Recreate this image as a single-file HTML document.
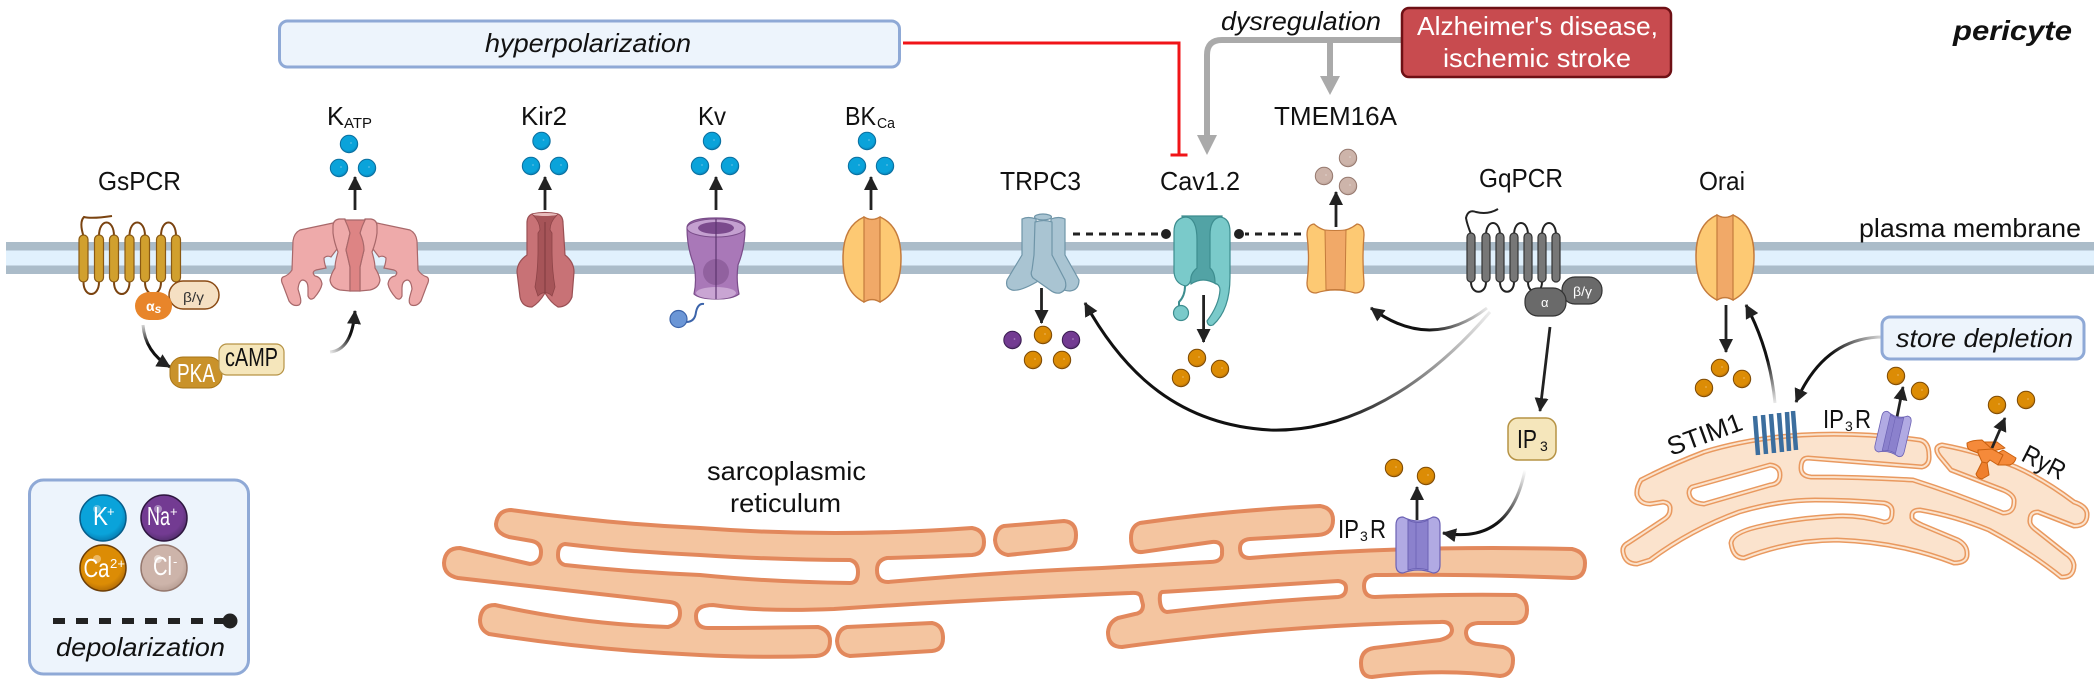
<!DOCTYPE html>
<html><head><meta charset="utf-8"><style>
html,body{margin:0;padding:0;background:#fff}
svg{display:block}
text{font-family:"Liberation Sans",sans-serif;font-size:26px;fill:#111}
.i{font-style:italic}
.w{fill:#fff}
</style></head><body>
<svg width="2100" height="685" viewBox="0 0 2100 685" xmlns="http://www.w3.org/2000/svg">
<defs>
<marker id="a" markerUnits="userSpaceOnUse" markerWidth="18" markerHeight="18" refX="13" refY="8" orient="auto"><path d="M0 1L14 8L0 15Z" fill="#222"/></marker>
<radialGradient id="gk" cx=".45" cy=".4" r=".65"><stop offset=".7" stop-color="#0aa3da"/><stop offset="1" stop-color="#0673a8"/></radialGradient>
<radialGradient id="gc" cx=".45" cy=".4" r=".65"><stop offset=".7" stop-color="#dc8c05"/><stop offset="1" stop-color="#a86508"/></radialGradient>
<radialGradient id="gn" cx=".45" cy=".4" r=".65"><stop offset=".7" stop-color="#733b92"/><stop offset="1" stop-color="#4c2c66"/></radialGradient>
<radialGradient id="gl" cx=".45" cy=".4" r=".65"><stop offset=".7" stop-color="#cdb4aa"/><stop offset="1" stop-color="#b39a90"/></radialGradient>
<g id="k"><circle r="8.7" fill="url(#gk)" stroke="#0b6f9f" stroke-width="1"/><circle cx="2" cy="-1" r=".9" fill="#7cc8e8" opacity=".7"/></g>
<g id="c"><circle r="8.7" fill="url(#gc)" stroke="#7d4a05" stroke-width="1"/><circle cx="2" cy="-1" r=".9" fill="#efbf70" opacity=".7"/></g>
<g id="n"><circle r="8.7" fill="url(#gn)" stroke="#3a1c50" stroke-width="1"/><circle cx="2" cy="-1" r=".9" fill="#b596c8" opacity=".7"/></g>
<g id="l"><circle r="8.7" fill="url(#gl)" stroke="#95786e" stroke-width="1"/><circle cx="2" cy="-1" r=".9" fill="#e6d8d2" opacity=".7"/></g>
<g id="bk">
<path d="M-8-43C-24-36-29-20-29-2C-29 18-24 34-8 42Q0 37 8 42C24 34 29 18 29-2C29-20 24-36 8-43Q0-38-8-43Z" fill="#fdc973" stroke="#c47b3c" stroke-width="1.500"/>
<path d="M-8-43Q0-38 8-43L8 42Q0 37-8 42Z" fill="#f1a968" stroke="#c47b3c" stroke-width="1.200"/>
</g>
<g id="ip3">
<path d="M-15-28Q-22-28-22-20L-22 20Q-22 28-15 28Q0 22 15 28Q22 28 22 20L22-20Q22-28 15-28Q0-20-15-28Z" fill="#b1aae3" stroke="#6c62b4" stroke-width="1.200"/>
<path d="M-10-25Q0-20 10-25L10 25Q0 22-10 25Z" fill="#8b81cd" stroke="#6c62b4" stroke-width="1"/>
<path d="M-2-22L-2 23" stroke="#6c62b4" stroke-width=".8"/>
</g>
<g id="kh" stroke="#a8686a" stroke-width="1.200" fill="#eeaaaa">
<path d="M333 223L300 230Q294 233 293 241L292 270Q289 275 283 277Q280 279 283 285L289 301Q293 307 299 305Q302 303 300 296L298 289Q299 280 303 280Q308 281 308 288L308 296Q310 301 314 298Q321 290 322 284Q321 277 315 276Q311 272 316 270L326 268Q324 262 324 258Q327 255 331 257L340 245L335 225Z"/>
<path d="M333 226Q333 220 339 219L345 219Q348 225 350 233Q348 242 346 250Q348 258 350 267L350 291L340 290Q331 288 330 280Q331 274 335 268Q335 262 338 252Q334 242 333 233Z"/>
</g>
<linearGradient id="f1" gradientUnits="userSpaceOnUse" x1="1525" y1="470" x2="1500" y2="525"><stop offset="0" stop-color="#222" stop-opacity="0"/><stop offset="1" stop-color="#111"/></linearGradient>
<linearGradient id="f2" gradientUnits="userSpaceOnUse" x1="1775" y1="403" x2="1765" y2="360"><stop offset="0" stop-color="#222" stop-opacity=".1"/><stop offset="1" stop-color="#111"/></linearGradient>
<linearGradient id="f3" gradientUnits="userSpaceOnUse" x1="1887" y1="337" x2="1830" y2="350"><stop offset="0" stop-color="#222" stop-opacity=".1"/><stop offset="1" stop-color="#111"/></linearGradient>
<linearGradient id="f4" gradientUnits="userSpaceOnUse" x1="1487" y1="308" x2="1430" y2="335"><stop offset="0" stop-color="#222" stop-opacity=".1"/><stop offset="1" stop-color="#111"/></linearGradient>
<linearGradient id="f5" gradientUnits="userSpaceOnUse" x1="1490" y1="312" x2="1300" y2="430"><stop offset="0" stop-color="#222" stop-opacity=".08"/><stop offset=".85" stop-color="#111"/></linearGradient>
<linearGradient id="f6" gradientUnits="userSpaceOnUse" x1="330" y1="352" x2="350" y2="335"><stop offset="0" stop-color="#222" stop-opacity=".1"/><stop offset="1" stop-color="#111"/></linearGradient>
<linearGradient id="f7" gradientUnits="userSpaceOnUse" x1="143" y1="325" x2="146" y2="345"><stop offset="0" stop-color="#222" stop-opacity=".2"/><stop offset="1" stop-color="#111"/></linearGradient>
</defs>

<!-- membrane -->
<rect x="6" y="242" width="2088" height="32" fill="#abbcc9"/>
<rect x="6" y="250.500" width="2088" height="15" fill="#e1f1fd"/>

<!-- top boxes -->
<rect x="279.500" y="21" width="620" height="46" rx="8" fill="#edf4fc" stroke="#8fa9d6" stroke-width="3"/>
<text class="i" x="485" y="52" textLength="206" lengthAdjust="spacingAndGlyphs">hyperpolarization</text>
<path d="M903 43L1179 43L1179 155M1170.500 155L1187.500 155" fill="none" stroke="#f01418" stroke-width="3"/>

<path d="M1402 40L1222 40Q1207 40 1207 55L1207 136M1330 40L1330 77" fill="none" stroke="#aaa" stroke-width="6"/>
<path d="M1197 135L1217 135L1207 155Z M1320 76L1340 76L1330 95Z" fill="#aaa"/>
<text class="i" x="1221" y="30" textLength="160" lengthAdjust="spacingAndGlyphs">dysregulation</text>
<rect x="1402" y="8" width="269" height="69" rx="7" fill="#c84b4f" stroke="#6e1015" stroke-width="2.500"/>
<text class="w" x="1417" y="35" textLength="241" lengthAdjust="spacingAndGlyphs">Alzheimer's disease,</text>
<text class="w" x="1443" y="67" textLength="188" lengthAdjust="spacingAndGlyphs">ischemic stroke</text>
<text x="1953" y="40" textLength="119" lengthAdjust="spacingAndGlyphs" style="font-size:28px;font-weight:700;font-style:italic">pericyte</text>
<text x="1859" y="237" textLength="222" lengthAdjust="spacingAndGlyphs">plasma membrane</text>

<!-- channel labels -->
<text x="98" y="190" textLength="83" lengthAdjust="spacingAndGlyphs">GsPCR</text>
<text x="327" y="125" textLength="17" lengthAdjust="spacingAndGlyphs">K</text>
<text x="344" y="128" textLength="28" lengthAdjust="spacingAndGlyphs" style="font-size:15px">ATP</text>
<text x="521" y="125" textLength="46" lengthAdjust="spacingAndGlyphs">Kir2</text>
<text x="698" y="125" textLength="28" lengthAdjust="spacingAndGlyphs">Kv</text>
<text x="845" y="125" textLength="31" lengthAdjust="spacingAndGlyphs">BK</text>
<text x="877" y="128" textLength="18" lengthAdjust="spacingAndGlyphs" style="font-size:15px">Ca</text>
<text x="1000" y="190" textLength="81" lengthAdjust="spacingAndGlyphs">TRPC3</text>
<text x="1160" y="190" textLength="80" lengthAdjust="spacingAndGlyphs">Cav1.2</text>
<text x="1274" y="125" textLength="123" lengthAdjust="spacingAndGlyphs">TMEM16A</text>
<text x="1479" y="187" textLength="84" lengthAdjust="spacingAndGlyphs">GqPCR</text>
<text x="1699" y="190" textLength="46" lengthAdjust="spacingAndGlyphs">Orai</text>

<!-- ions top -->
<use href="#k" x="349" y="144"/><use href="#k" x="339" y="168"/><use href="#k" x="367" y="168"/>
<use href="#k" x="541.500" y="141"/><use href="#k" x="531" y="166"/><use href="#k" x="559" y="166"/>
<use href="#k" x="712" y="141"/><use href="#k" x="700" y="166"/><use href="#k" x="730" y="166"/>
<use href="#k" x="867" y="141"/><use href="#k" x="857" y="166"/><use href="#k" x="885" y="166"/>
<use href="#n" x="1012.500" y="340"/><use href="#c" x="1043" y="335"/><use href="#n" x="1071" y="340"/><use href="#c" x="1033" y="360"/><use href="#c" x="1062" y="360"/>
<use href="#c" x="1197" y="358"/><use href="#c" x="1220" y="369"/><use href="#c" x="1181" y="378"/>
<use href="#l" x="1348" y="158"/><use href="#l" x="1324" y="176"/><use href="#l" x="1348" y="186"/>
<use href="#c" x="1720" y="368"/><use href="#c" x="1742" y="379"/><use href="#c" x="1704" y="388"/>
<use href="#c" x="1896" y="376"/><use href="#c" x="1920" y="391"/>
<use href="#c" x="2026" y="400"/><use href="#c" x="1997" y="405"/>
<use href="#c" x="1394" y="468"/><use href="#c" x="1426" y="476"/>

<!-- straight arrows -->
<g fill="none" stroke="#222" stroke-width="2.800">
<path d="M355 210L355 177" marker-end="url(#a)"/>
<path d="M545 210L545 177" marker-end="url(#a)"/>
<path d="M716 210L716 177" marker-end="url(#a)"/>
<path d="M871 210L871 177" marker-end="url(#a)"/>
<path d="M1041.500 288L1041.500 323" marker-end="url(#a)"/>
<path d="M1203.600 295L1203.600 342" marker-end="url(#a)"/>
<path d="M1336 227L1336 192" marker-end="url(#a)"/>
<path d="M1726 305L1726 352" marker-end="url(#a)"/>
<path d="M1550 327L1540 411" marker-end="url(#a)"/>
<path d="M1417 520L1417 487" marker-end="url(#a)"/>
<path d="M1897 417L1903 387" marker-end="url(#a)"/>
</g>
<!-- curved arrows -->
<g fill="none" stroke-width="3">
<path d="M143 325Q145 352 170 367" stroke="url(#f7)" marker-end="url(#a)"/>
<path d="M330 352Q352 350 355 311" stroke="url(#f6)" marker-end="url(#a)"/>
<path d="M1487 308Q1430 352 1371 308" stroke="url(#f4)" marker-end="url(#a)"/>
<path d="M1490 312C1410 405 1330 432 1270 430C1180 425 1125 375 1085 303" stroke="url(#f5)" marker-end="url(#a)"/>
<path d="M1525 470Q1510 545 1443 533" stroke="url(#f1)" marker-end="url(#a)"/>
<path d="M1775 403Q1770 350 1746 305" stroke="url(#f2)" marker-end="url(#a)"/>
<path d="M1887 337Q1825 335 1796 402" stroke="url(#f3)" marker-end="url(#a)"/>
</g>

<!-- GsPCR -->
<path d="M99 236C99 218 114 218 114 236M129.500 236C129.500 218 145 218 145 236M161 236C161 218 176 218 176 236M83.500 282C83.500 298 99 298 99 282M114 282C114 298 129.500 298 129.500 282M145 282C145 298 161 298 161 282M83.500 236Q79 222 84 217Q92 219 112 216" fill="none" stroke="#7a4310" stroke-width="2"/>
<g fill="#d1a02e" stroke="#8a5a14" stroke-width="1.200">
<rect x="79" y="235" width="9" height="47" rx="4.500"/><rect x="94.500" y="235" width="9" height="47" rx="4.500"/><rect x="109.500" y="235" width="9" height="47" rx="4.500"/><rect x="125" y="235" width="9" height="47" rx="4.500"/><rect x="140.500" y="235" width="9" height="47" rx="4.500"/><rect x="156.500" y="235" width="9" height="47" rx="4.500"/><rect x="171.500" y="235" width="9" height="47" rx="4.500"/>
</g>
<rect x="169" y="281" width="50" height="28" rx="14" fill="#f5e0c3" stroke="#8a4a14" stroke-width="1.500"/>
<text x="183" y="302" textLength="21" lengthAdjust="spacingAndGlyphs" style="font-size:14px;fill:#333">β/γ</text>
<rect x="135" y="292" width="37" height="28" rx="14" fill="#e8852a"/>
<text class="w" x="146" y="311" style="font-size:14px;font-weight:700">α<tspan style="font-style:italic;font-size:12px" dy="2">s</tspan></text>
<rect x="170" y="357" width="52" height="31" rx="13" fill="#c9922a" stroke="#a87416" stroke-width="1"/>
<text class="w" x="177" y="382" textLength="38" lengthAdjust="spacingAndGlyphs">PKA</text>
<rect x="219" y="344" width="65" height="31" rx="8" fill="#f5e6bb" stroke="#b69345" stroke-width="1.200"/>
<text x="225" y="366" textLength="53" lengthAdjust="spacingAndGlyphs">cAMP</text>

<!-- KATP -->
<use href="#kh"/>
<use href="#kh" transform="translate(710 0) scale(-1 1)"/>
<path d="M345 220L365 220Q362 226 360 233Q364 242 364 250Q362 258 360 267L360 291L350 291L350 267Q348 258 346 250Q348 242 350 233Q348 226 345 220Z" fill="#dd8484" stroke="#a8686a" stroke-width="1.200"/>

<!-- Kir2 -->
<path d="M532 214Q545 211 558 214Q563 216 563 223L565 255Q574 262 574 272L572 297Q568 307 558 307Q551 303 545 293Q539 303 532 307Q522 307 520 297L517 272Q517 262 527 255L527 223Q527 216 532 214Z" fill="#c87276" stroke="#9a5054" stroke-width="1.200"/>
<path d="M533 215L557 215Q550 222 550 230L552 233L552 250Q552 270 555 287L552 296Q548 292 545 293Q542 292 538 296L535 287Q538 270 538 250L538 233L540 230Q540 222 533 215Z" fill="#a65458" stroke="#8e4448" stroke-width=".8"/>
<path d="M545 222L545 293" stroke="#7e3a3e" stroke-width="1"/>
<ellipse cx="545" cy="214.500" rx="12" ry="1.500" fill="#e8bcbc"/>

<!-- Kv -->
<circle cx="678.500" cy="319" r="8.500" fill="#6b96d6" stroke="#3c64aa" stroke-width="1.200"/>
<path d="M686 322Q695 322 696 312Q698 303 704 304" fill="none" stroke="#3c64aa" stroke-width="2"/>
<path d="M687 228Q687 218 716 218Q745 218 745 228Q745 248 738 265Q736 280 739 294Q733 299 716 299Q699 299 694 294Q697 280 694 265Q687 248 687 228Z" fill="#a978b8" stroke="#7a4d8a" stroke-width="1.200"/>
<ellipse cx="716" cy="228" rx="29" ry="9" fill="#c4a0d0" stroke="#7a4d8a" stroke-width="1"/>
<ellipse cx="716" cy="228" rx="18" ry="6" fill="#7b4a8d"/>
<circle cx="716" cy="272" r="13" fill="#91619f"/>
<ellipse cx="716" cy="293" rx="20" ry="6" fill="#c9a5d3"/>
<path d="M716 219L716 299" stroke="#5d3570" stroke-width="1.200"/>

<!-- BK, Orai -->
<use href="#bk" x="872" y="260"/>
<use href="#bk" x="1725" y="258"/>

<!-- TRPC3 -->
<g fill="#a9c4d2" stroke="#6f95a8" stroke-width="1.200">
<ellipse cx="1043" cy="217" rx="8.500" ry="3"/>
<path d="M1022 219Q1028 216 1036 219L1040 280Q1020 292 1012 290Q1005 288 1007 280L1022 255Z"/>
<path d="M1065 219Q1059 216 1051 219L1050 280Q1060 291 1070 291Q1079 290 1079 280L1065 255Z"/>
<path d="M1035 222Q1044 219 1052 222L1052 255L1065 280Q1068 290 1060 293Q1055 294 1050 290L1033 278Q1030 274 1032 270L1034 255Z"/>
</g>

<!-- Cav1.2 -->
<g stroke="#3d8d8f" stroke-width="1.200">
<path d="M1185 286Q1185 296 1179 302L1179 306" fill="none" stroke-width="2"/>
<circle cx="1181" cy="313" r="7.500" fill="#7acaca"/>
<path d="M1182 216L1222 216L1216 284Q1203 276 1191 284Z" fill="#52a3a5"/>
<path d="M1186 217Q1174 218 1174 232L1174 272Q1175 284 1186 286Q1191 284 1191 277Q1192 272 1197 268L1197 240Q1197 218 1186 217Z" fill="#7acaca"/>
<path d="M1220 217Q1210 219 1210 235L1210 268Q1215 272 1215 283Q1220 285 1220 290Q1219 305 1207 321Q1208 327 1213 325Q1230 310 1230 277L1230 232Q1230 218 1220 217Z" fill="#7acaca"/>
</g>

<!-- TMEM16A -->
<path d="M1314 224Q1307 225 1307 235Q1310 258 1307 283Q1307 293 1316 293Q1325 290 1335 290Q1345 290 1355 293Q1364 293 1364 283Q1362 258 1364 235Q1364 225 1357 224Q1347 232 1335 231Q1323 232 1314 224Z" fill="#fdc973" stroke="#c47b3c" stroke-width="1.300"/>
<path d="M1325 230Q1335 231 1346 230L1345 290Q1335 289 1326 290Z" fill="#f1a968" stroke="#c47b3c" stroke-width="1"/>

<!-- depolarization dashes -->
<g stroke="#222" stroke-width="3" stroke-dasharray="7 6" fill="none">
<path d="M1073 234L1160 234"/><path d="M1301 234L1245 234"/>
</g>
<circle cx="1166" cy="234" r="5" fill="#222"/><circle cx="1239" cy="234" r="5" fill="#222"/>

<!-- GqPCR -->
<path d="M1486 235C1486 219 1500 219 1500 235M1514 235C1514 219 1528 219 1528 235M1542 235C1542 219 1556 219 1556 235M1471 282C1471 295 1486 295 1486 282M1500 282C1500 295 1514 295 1514 282M1528 282C1528 295 1542 295 1542 282M1471 234Q1467 224 1466 218Q1468 209 1476 212Q1488 215 1498 209" fill="none" stroke="#222" stroke-width="2"/>
<g fill="#777" stroke="#333" stroke-width="1.200">
<rect x="1467" y="233" width="8" height="49" rx="4"/><rect x="1482" y="233" width="8" height="49" rx="4"/><rect x="1496" y="233" width="8" height="49" rx="4"/><rect x="1510" y="233" width="8" height="49" rx="4"/><rect x="1524" y="233" width="8" height="49" rx="4"/><rect x="1538" y="233" width="8" height="49" rx="4"/><rect x="1552" y="233" width="8" height="49" rx="4"/>
</g>
<rect x="1562" y="277" width="40" height="27" rx="13" fill="#6a6a6a" stroke="#333" stroke-width="1.200"/>
<rect x="1525" y="288" width="41" height="28" rx="13" fill="#6a6a6a" stroke="#333" stroke-width="1.200"/>
<text class="w" x="1573" y="296" textLength="19" lengthAdjust="spacingAndGlyphs" style="font-size:13px">β/γ</text>
<text class="w" x="1541" y="307" style="font-size:13px">α</text>

<!-- IP3 box -->
<rect x="1508" y="418" width="48" height="42" rx="10" fill="#f5e6bb" stroke="#b69345" stroke-width="1.500"/>
<text x="1517" y="448" textLength="20" lengthAdjust="spacingAndGlyphs">IP</text>
<text x="1540" y="451" style="font-size:14px">3</text>

<!-- store depletion -->
<rect x="1882" y="317" width="202" height="42" rx="8" fill="#edf4fc" stroke="#8fa9d6" stroke-width="3"/>
<text class="i" x="1896" y="347" textLength="177" lengthAdjust="spacingAndGlyphs">store depletion</text>

<!-- SR left -->
<g fill="#f4c5a0" stroke="#e2885c" stroke-width="4" stroke-linejoin="round">
<path d="M511 510Q610 524 700 528Q834 538 972 528Q984 530 984 542Q984 554 972 555Q930 557 887 558Q877 560 877 570Q877 582 888 582Q1000 572 1102 568L1210 562Q1223 562 1222 552Q1223 541 1212 542L1142 552Q1131 553 1131 538Q1131 526 1140 523Q1230 510 1320 506Q1333 508 1333 520Q1333 534 1318 535L1250 539Q1240 540 1240 548Q1240 558 1250 558Q1400 545 1572 549Q1585 552 1585 563Q1585 578 1572 578Q1470 574 1375 575Q1364 576 1364 586Q1364 597 1375 597Q1450 594 1516 595Q1527 598 1527 610Q1527 623 1514 623L1478 623Q1466 624 1466 633Q1467 643 1478 644L1503 647Q1513 650 1513 660Q1513 675 1500 676Q1440 668 1372 677Q1361 677 1361 663Q1361 650 1374 648L1440 640Q1452 637 1452 630Q1451 621 1440 622Q1280 625 1122 647Q1108 647 1108 632Q1109 622 1118 618L1135 614Q1143 613 1143 605L1141 597Q1140 592 1130 593Q968 600 834 609Q760 612 713 605Q696 605 696 616Q696 628 708 628Q760 628 818 627Q830 630 830 641Q830 655 816 656Q760 658 700 655Q590 650 489 634Q480 630 480 620Q481 605 495 605Q580 624 668 627Q680 624 680 613Q680 603 670 602Q560 590 458 578Q444 575 444 563Q445 548 460 548L530 564Q541 563 541 552Q541 543 532 541L509 537Q496 533 496 524Q498 510 511 510Z"/>
<path d="M1004 526L1064 521Q1076 522 1076 535Q1076 548 1066 549L1008 555Q996 553 995 540Q996 528 1004 526Z"/>
<path d="M847 627L932 623Q943 625 943 638Q943 650 932 651L850 656Q838 654 837 641Q838 629 847 627Z"/>
</g>
<g fill="#fff" stroke="#e2885c" stroke-width="4" stroke-linejoin="round">
<path d="M565 544Q630 552 700 555Q780 560 850 560Q858 562 858 572Q858 583 850 583Q770 582 700 575Q630 572 565 565Q558 563 558 555Q558 545 565 544Z"/>
<path d="M1162 592L1338 581Q1346 582 1346 588Q1346 596 1338 597Q1250 602 1167 612Q1161 611 1160 602Q1159 593 1162 592Z"/>
</g>
<text x="707" y="480" textLength="159" lengthAdjust="spacingAndGlyphs">sarcoplasmic</text>
<text x="730" y="512" textLength="111" lengthAdjust="spacingAndGlyphs">reticulum</text>
<text x="1338" y="538" textLength="21" lengthAdjust="spacingAndGlyphs">IP</text>
<text x="1360" y="541" style="font-size:14px">3</text>
<text x="1370" y="538" textLength="16" lengthAdjust="spacingAndGlyphs">R</text>
<use href="#ip3" x="1418" y="545"/>

<!-- ER right -->
<g stroke-linejoin="round">
<path d="M1623 552Q1625 564 1637 564L1650 560Q1690 530 1739 512Q1780 500 1815 500Q1850 500 1884 503Q1893 505 1892 513Q1892 522 1884 522Q1860 515 1837 516Q1795 518 1757 527Q1732 533 1731 543Q1733 558 1744 558Q1790 540 1837 540Q1900 542 1954 563Q1968 563 1967 553Q1967 545 1958 540L1922 525Q1911 520 1912 517Q1911 510 1920 510Q1955 516 1989 530Q2030 552 2061 577Q2074 578 2074 565Q2073 558 2065 553L2036 530Q2029 525 2030 520Q2030 512 2038 512L2074 526Q2088 526 2087 513Q2086 506 2074 502Q2045 480 2016 467Q1980 452 1942 445Q1932 447 1941 458L1951 470L2003 490Q2015 495 2014 502Q2014 513 2003 513Q1960 495 1913 480Q1860 477 1811 477Q1801 476 1801 468Q1801 458 1808 458L1922 467Q1930 465 1929 455Q1929 442 1920 440Q1860 432 1802 435Q1750 438 1704 452Q1670 465 1641 480Q1636 488 1637 495Q1640 504 1650 504L1663 502Q1671 503 1670 510Q1670 516 1663 520L1628 543Q1622 546 1623 552Z" fill="#fbe3cd" stroke="#e9995f" stroke-width="5"/>
<path d="M1623 552Q1625 564 1637 564L1650 560Q1690 530 1739 512Q1780 500 1815 500Q1850 500 1884 503Q1893 505 1892 513Q1892 522 1884 522Q1860 515 1837 516Q1795 518 1757 527Q1732 533 1731 543Q1733 558 1744 558Q1790 540 1837 540Q1900 542 1954 563Q1968 563 1967 553Q1967 545 1958 540L1922 525Q1911 520 1912 517Q1911 510 1920 510Q1955 516 1989 530Q2030 552 2061 577Q2074 578 2074 565Q2073 558 2065 553L2036 530Q2029 525 2030 520Q2030 512 2038 512L2074 526Q2088 526 2087 513Q2086 506 2074 502Q2045 480 2016 467Q1980 452 1942 445Q1932 447 1941 458L1951 470L2003 490Q2015 495 2014 502Q2014 513 2003 513Q1960 495 1913 480Q1860 477 1811 477Q1801 476 1801 468Q1801 458 1808 458L1922 467Q1930 465 1929 455Q1929 442 1920 440Q1860 432 1802 435Q1750 438 1704 452Q1670 465 1641 480Q1636 488 1637 495Q1640 504 1650 504L1663 502Q1671 503 1670 510Q1670 516 1663 520L1628 543Q1622 546 1623 552Z" fill="none" stroke="#fbe3cd" stroke-width="2"/>
<path d="M1692 487L1770 465Q1780 466 1780 475Q1780 484 1770 485L1704 504Q1690 503 1689 493Q1689 489 1692 487Z" fill="#fff" stroke="#e9995f" stroke-width="5"/>
<path d="M1692 487L1770 465Q1780 466 1780 475Q1780 484 1770 485L1704 504Q1690 503 1689 493Q1689 489 1692 487Z" fill="none" stroke="#fbe3cd" stroke-width="2"/>
</g>
<!-- STIM1 bars -->
<g stroke="#3c6e9e" stroke-width="4.500">
<path d="M1755 416L1758 455M1763 415L1766 454M1771 414L1774 453M1779 413L1782 452M1787 412L1789 451M1793 411L1796 450"/>
</g>
<text transform="translate(1671 456) rotate(-20)" textLength="78" lengthAdjust="spacingAndGlyphs">STIM1</text>
<text x="1823" y="428" textLength="21" lengthAdjust="spacingAndGlyphs">IP</text>
<text x="1845" y="431" style="font-size:14px">3</text>
<text x="1855" y="428" textLength="16" lengthAdjust="spacingAndGlyphs">R</text>
<use href="#ip3" transform="translate(1893 434) rotate(13) scale(.68 .74)"/>
<text transform="translate(2020 460) rotate(27)" textLength="45" lengthAdjust="spacingAndGlyphs">RyR</text>
<!-- RyR -->
<g stroke="#c9600f" stroke-width="1" fill="#f58a3a" stroke-linejoin="round">
<path d="M1983 442L1997 442L2005 448L1993 451Z"/>
<path d="M1982 440Q1972 440 1967 443Q1967 449 1970 450L1978 453L1993 450Z"/>
<path d="M2003 450L2016 458Q2015 463 2010 465L1998 465L1993 456Z"/>
<path d="M1982 462L1976 474Q1977 478 1982 479L1989 475L1987 462Z" fill="#ef7f2c"/>
<path d="M1978 450L1992 449L2003 455L1998 465L1990 460L1987 463L1982 462L1978 453Z"/>
</g>
<path d="M1992 448L2005 418" fill="none" stroke="#222" stroke-width="2.800" marker-end="url(#a)"/>

<!-- legend -->
<rect x="29.500" y="480" width="219" height="194" rx="14" fill="#edf4fc" stroke="#8fa9d6" stroke-width="3"/>
<circle cx="103" cy="518" r="23" fill="url(#gk)" stroke="#075d8a" stroke-width="1.500"/>
<circle cx="164" cy="518" r="23" fill="url(#gn)" stroke="#2e163f" stroke-width="1.500"/>
<circle cx="103" cy="568" r="23" fill="url(#gc)" stroke="#6d3e06" stroke-width="1.500"/>
<circle cx="164" cy="568" r="23" fill="url(#gl)" stroke="#95786e" stroke-width="1.500"/>
<circle cx="97" cy="509" r="4" fill="#5bbde0"/><circle cx="158" cy="509" r="4" fill="#a683bc"/><circle cx="97" cy="559" r="4" fill="#edb862"/><circle cx="158" cy="559" r="4" fill="#e6d8d2"/>
<text class="w" x="93" y="525" textLength="15" lengthAdjust="spacingAndGlyphs">K</text><text class="w" x="107" y="516" style="font-size:13px">+</text>
<text class="w" x="147" y="525" textLength="23" lengthAdjust="spacingAndGlyphs">Na</text><text class="w" x="170" y="516" style="font-size:13px">+</text>
<text class="w" x="83.500" y="577" textLength="26" lengthAdjust="spacingAndGlyphs">Ca</text><text class="w" x="110" y="568" textLength="15" lengthAdjust="spacingAndGlyphs" style="font-size:13px">2+</text>
<text class="w" x="153" y="575" textLength="19" lengthAdjust="spacingAndGlyphs">Cl</text><text class="w" x="173" y="566" style="font-size:13px">-</text>
<path d="M53 621L228 621" stroke="#222" stroke-width="6" stroke-dasharray="12 11" fill="none"/>
<circle cx="230" cy="621" r="7.500" fill="#222"/>
<text class="i" x="56" y="656" textLength="169" lengthAdjust="spacingAndGlyphs">depolarization</text>
</svg>
</body></html>
